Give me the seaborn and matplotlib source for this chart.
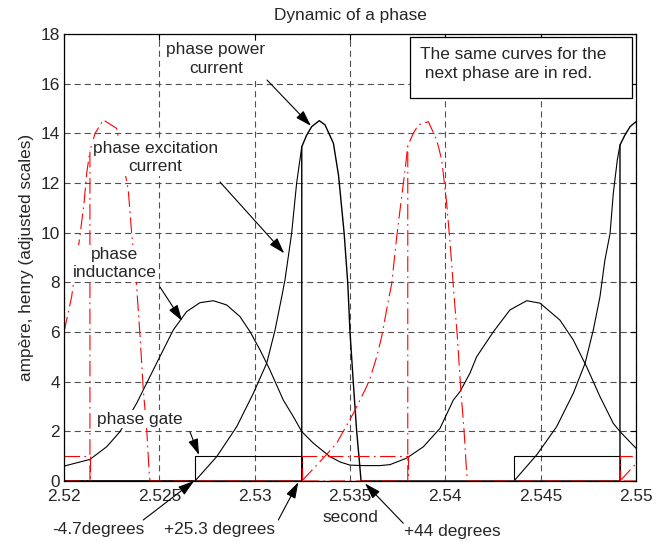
import matplotlib
matplotlib.use("Agg")
import matplotlib.pyplot as plt
import seaborn as sns

# ---------------- data ----------------
x_ticks = [2.52, 2.525, 2.53, 2.535, 2.54, 2.545, 2.55]
x_tick_labels = ["2.52", "2.525", "2.53", "2.535", "2.54", "2.545", "2.55"]
y_ticks = [0, 2, 4, 6, 8, 10, 12, 14, 16, 18]

# phase inductance (black)
ind_t = [2.52000, 2.52136, 2.52224, 2.52294, 2.52381, 2.52503, 2.52573, 2.52643,
         2.52713, 2.52783, 2.52853, 2.52923, 2.52976, 2.53028, 2.53080, 2.53150,
         2.53203, 2.53247, 2.53308, 2.53395, 2.53450, 2.53500, 2.53570, 2.53657,
         2.53710, 2.53797, 2.53885, 2.53972, 2.54042, 2.54077, 2.54129, 2.54164,
         2.54252, 2.54339, 2.54427, 2.54497, 2.54601, 2.54671, 2.54741, 2.54811,
         2.54881, 2.54916, 2.55000]
ind_v = [0.60, 0.87, 1.38, 1.99, 3.13, 5.01, 6.08, 6.82,
         7.18, 7.26, 7.09, 6.62, 6.01, 5.28, 4.47, 3.26,
         2.59, 1.99, 1.52, 0.98, 0.76, 0.64, 0.62, 0.62,
         0.66, 0.92, 1.38, 2.12, 3.26, 3.60, 4.34, 5.00,
         6.01, 6.89, 7.26, 7.16, 6.48, 5.68, 4.60, 3.40,
         2.32, 1.99, 1.32]

# phase excitation current while the gate is on (black, two pieces)
cur1_t = [2.52000, 2.52687, 2.52801, 2.52906, 2.52993, 2.53063, 2.53107, 2.53142,
          2.53159, 2.53194, 2.53220, 2.53247]
cur1_v = [0.00, 0.00, 0.98, 2.19, 3.53, 4.74, 6.08, 7.42,
          8.10, 9.98, 11.99, 13.46]
cur2_t = [2.54360, 2.54479, 2.54584, 2.54671, 2.54733, 2.54776, 2.54811,
          2.54837, 2.54864, 2.54881, 2.54902, 2.54916]
cur2_v = [0.00, 1.05, 2.19, 3.53, 4.74, 6.08, 7.42,
          8.90, 9.97, 11.59, 12.93, 13.53]

# phase power current (black): turn-off and decay
pow_t = [2.52000, 2.53247, 2.53247, 2.53273, 2.53299, 2.53339, 2.53369, 2.53413,
         2.53440, 2.53469, 2.53488, 2.53500, 2.53517, 2.53535, 2.53548, 2.53558,
         2.54916, 2.54916, 2.54942, 2.54969, 2.55000]
pow_v = [0.00, 0.00, 13.46, 13.93, 14.27, 14.51, 14.34, 13.60,
         12.30, 10.00, 8.00, 6.00, 4.00, 2.00, 0.90, 0.00,
         0.00, 13.53, 13.93, 14.27, 14.47]

# phase gate (black)
gate_t = [2.52000, 2.52687, 2.52687, 2.53247, 2.53247, 2.54360, 2.54360, 2.54916, 2.54916, 2.55000]
gate_v = [0, 0, 1, 1, 0, 0, 1, 1, 0, 0]

# next phase (red): excitation current while its gate is on (three pieces)
rcur1_t = [2.52000, 2.52040, 2.52084, 2.52105, 2.52119, 2.52136]
rcur1_v = [6.00, 7.42, 9.91, 11.18, 12.39, 13.30]
rcur2_t = [2.53247, 2.53343, 2.53430, 2.53518, 2.53587, 2.53605, 2.53640, 2.53666,
           2.53692, 2.53719, 2.53745, 2.53771, 2.53789, 2.53803]
rcur2_v = [0.00, 0.78, 1.52, 2.73, 3.80, 4.13, 5.00, 5.81,
           6.89, 7.96, 9.84, 11.45, 12.53, 13.50]
rcur3_t = [2.54916, 2.55000]
rcur3_v = [0.00, 0.70]

# next phase (red): power current (turn-off and decay)
rpow_t = [2.52000, 2.52136, 2.52136, 2.52163, 2.52206, 2.52276, 2.52337, 2.52355,
          2.52381, 2.52399, 2.52416, 2.52434, 2.52448, 2.52452, 2.53803, 2.53803,
          2.53832, 2.53858, 2.53911, 2.53955, 2.53981, 2.54007, 2.54025, 2.54042,
          2.54063, 2.54080, 2.54098, 2.54112, 2.54116, 2.55000]
rpow_v = [0.00, 0.00, 13.30, 14.00, 14.54, 14.20, 11.72, 9.97,
          7.83, 5.81, 3.66, 2.05, 0.17, 0.00, 0.00, 13.50,
          14.00, 14.34, 14.47, 13.73, 12.93, 11.18, 9.57, 7.83,
          5.81, 3.80, 2.05, 0.31, 0.00, 0.00]

# next phase (red): gate
rgate_t = [2.52000, 2.52136, 2.52136, 2.53247, 2.53247, 2.53803, 2.53803, 2.54916, 2.54916, 2.55000]
rgate_v = [1, 1, 0, 0, 1, 1, 0, 0, 1, 1]

# ---------------- style ----------------
sns.set_theme(style="white")
plt.rcParams["font.family"] = ["Liberation Sans", "DejaVu Sans"]
plt.rcParams["xtick.direction"] = "in"
plt.rcParams["ytick.direction"] = "in"

FS = 12.4
fig = plt.figure(figsize=(6.68, 5.42), dpi=100)
ax = fig.add_axes([64 / 668, 1 - 481 / 542, 572 / 668, 447 / 542])

black_kw = dict(color="black", linewidth=0.8, estimator=None, sort=False, ax=ax)
red_ls = (0, (14, 4, 1.5, 4))
red_kw = dict(color="#ff0000", linewidth=0.8, estimator=None, sort=False, ax=ax,
              linestyle=red_ls)

sns.lineplot(x=ind_t, y=ind_v, **black_kw)
for xs, ys in [(cur1_t, cur1_v), (cur2_t, cur2_v)]:
    sns.lineplot(x=xs, y=ys, **black_kw)
sns.lineplot(x=gate_t, y=gate_v, **black_kw)
sns.lineplot(x=pow_t, y=pow_v, color="black", linewidth=1.0, estimator=None,
             sort=False, ax=ax)
for xs, ys in [(rcur1_t, rcur1_v), (rcur2_t, rcur2_v), (rcur3_t, rcur3_v)]:
    sns.lineplot(x=xs, y=ys, **red_kw)
sns.lineplot(x=rpow_t, y=rpow_v, **red_kw)
sns.lineplot(x=rgate_t, y=rgate_v, **red_kw)

ax.set_xlim(2.52, 2.55)
ax.set_ylim(0, 18)
ax.set_xticks(x_ticks)
ax.set_xticklabels(x_tick_labels)
ax.set_yticks(y_ticks)
ax.tick_params(axis="both", labelsize=FS, length=4, width=0.8, color="black",
               top=True, right=True)
ax.tick_params(axis="x", pad=6)
ax.tick_params(axis="y", pad=3)
ax.grid(True, linestyle=(0, (5.5, 3.6)), color="#505050", linewidth=0.8)
ax.set_axisbelow(True)
for s in ax.spines.values():
    s.set_color("black")
    s.set_linewidth(0.9)

ax.set_title("Dynamic of a phase", fontsize=FS, pad=10)
ax.set_ylabel("ampère, henry (adjusted scales)", fontsize=FS, labelpad=5)
ax.set_xlabel("second", fontsize=FS, labelpad=4)

# ---------------- annotations ----------------
wbox = dict(facecolor="white", edgecolor="none", pad=1.0)
txt_kw = dict(transform=ax.transAxes, ha="center", va="center", fontsize=FS,
              linespacing=1.3, zorder=6)
ax.text(0.2657, 0.944, "phase power\ncurrent", bbox=wbox, **txt_kw)
ax.text(0.1600, 0.7237, "phase excitation\ncurrent", bbox=wbox, **txt_kw)
ax.text(0.0892, 0.4866, "phase\ninductance", bbox=wbox, **txt_kw)
ax.text(0.132, 0.1387, "phase gate", bbox=wbox, **txt_kw)

ax.text(0.0594, -0.1096, "-4.7degrees", clip_on=False, **txt_kw)
ax.text(0.271, -0.1096, "+25.3 degrees", clip_on=False, **txt_kw)
ax.text(0.6783, -0.1119, "+44 degrees", clip_on=False, **txt_kw)

ax.text(0.6224, 0.933, "The same curves for the\n next phase are in red.",
        transform=ax.transAxes, ha="left", va="center", fontsize=FS,
        linespacing=1.3, zorder=7)
ax.add_patch(plt.Rectangle((0.6049, 0.8568), 0.388, 0.1365, transform=ax.transAxes,
                           facecolor="white", edgecolor="black", linewidth=0.9,
                           zorder=6))

arrow = dict(arrowstyle="-|>,head_length=0.7,head_width=0.22", color="black",
             lw=0.8, shrinkA=0, shrinkB=0, mutation_scale=14)
arrows = [
    ((2.53295, 14.30), (0.3549, 0.8971)),
    ((2.53155, 9.17), (0.2727, 0.6689)),
    ((2.52619, 6.45), (0.1678, 0.4340)),
    ((2.52708, 1.05), (0.2203, 0.1096)),
    ((2.52682, 0.00), (0.1386, -0.0872)),
    ((2.53229, -0.05), (0.3747, -0.0872)),
    ((2.53579, -0.10), (0.5932, -0.0946)),
]
for tip, tail in arrows:
    ax.annotate("", xy=tip, xycoords="data", xytext=tail, textcoords="axes fraction",
                arrowprops=arrow, annotation_clip=False, zorder=8)

fig.savefig("out.png", dpi=100)
